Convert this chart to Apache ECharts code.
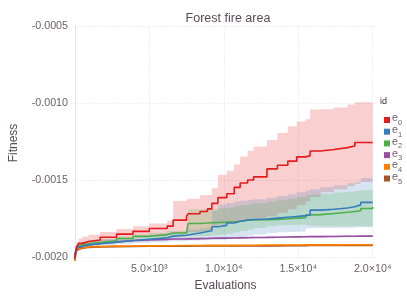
<!DOCTYPE html>
<html><head><meta charset="utf-8">
<script src="https://cdn.jsdelivr.net/npm/echarts@6/dist/echarts.min.js"></script>
<style>html,body{margin:0;padding:0;background:#fff}#c{width:407px;height:305px}</style>
</head><body><div id="c"></div>
<script>
const evaluations = [0, 40, 120, 250, 500, 900, 1700, 2800, 3900, 5000, 6200, 6600, 7500, 7600, 8400, 8900, 9200, 9600, 10200, 10700, 11100, 11600, 12000, 12900, 13600, 14300, 14900, 15500, 15800, 16500, 17400, 18300, 18800, 19200, 20000];

const e0Mean = [-0.002011,-0.001965,-0.001932,-0.001912,-0.001900, -0.001890,-0.001872,-0.001852,-0.001834,-0.001815, -0.001800,-0.001761,-0.001735,-0.001720,-0.001705, -0.001688,-0.001652,-0.001615,-0.001590,-0.001548, -0.001520,-0.001500,-0.001480,-0.001428,-0.001405, -0.001378,-0.001350,-0.001342,-0.001312,-0.001302, -0.001290,-0.001280,-0.001257,-0.001257,-0.001257];
const e0Hi = [-0.001978,-0.001930,-0.001898,-0.001880,-0.001868, -0.001856,-0.001838,-0.001818,-0.001800,-0.001783, -0.001765,-0.001637,-0.001626,-0.001622,-0.001600, -0.001598,-0.001554,-0.001467,-0.001440,-0.001400, -0.001348,-0.001310,-0.001283,-0.001240,-0.001195, -0.001152,-0.001120,-0.001105,-0.001043,-0.001040, -0.001030,-0.001010,-0.000996,-0.000996,-0.000996];
const e0Lo = [-0.002015,-0.001975,-0.001945,-0.001925,-0.001915, -0.001906,-0.001896,-0.001886,-0.001876,-0.001866, -0.001858,-0.001855,-0.001850,-0.001840,-0.001835, -0.001830,-0.001800,-0.001790,-0.001780,-0.001772, -0.001765,-0.001760,-0.001750,-0.001735,-0.001715, -0.001690,-0.001665,-0.001640,-0.001610,-0.001580, -0.001560,-0.001540,-0.001525,-0.001514,-0.001514];

const e1Mean = [-0.002011,-0.001975,-0.001948,-0.001932,-0.001922, -0.001914,-0.001904,-0.001893,-0.001885,-0.001876, -0.001865,-0.001859,-0.001848,-0.001845,-0.001835, -0.001830,-0.001804,-0.001795,-0.001780,-0.001768, -0.001761,-0.001757,-0.001754,-0.001748,-0.001742, -0.001737,-0.001732,-0.001728,-0.001696,-0.001690, -0.001682,-0.001674,-0.001662,-0.001646,-0.001646];
const e1Hi = [-0.001985,-0.001950,-0.001925,-0.001910,-0.001902, -0.001895,-0.001886,-0.001876,-0.001866,-0.001856, -0.001845,-0.001838,-0.001828,-0.001824,-0.001815, -0.001808,-0.001700,-0.001660,-0.001650,-0.001640, -0.001635,-0.001630,-0.001625,-0.001615,-0.001605, -0.001595,-0.001580,-0.001570,-0.001560,-0.001548, -0.001535,-0.001522,-0.001515,-0.001488,-0.001488];
const e1Lo = [-0.002020,-0.001990,-0.001965,-0.001950,-0.001940, -0.001932,-0.001924,-0.001916,-0.001910,-0.001905, -0.001900,-0.001898,-0.001895,-0.001894,-0.001892, -0.001890,-0.001890,-0.001888,-0.001880,-0.001875, -0.001870,-0.001862,-0.001855,-0.001845,-0.001840, -0.001838,-0.001836,-0.001815,-0.001812,-0.001812, -0.001810,-0.001810,-0.001808,-0.001808,-0.001808];

const e2Mean = [-0.002011,-0.001970,-0.001942,-0.001925,-0.001915, -0.001906,-0.001895,-0.001880,-0.001866,-0.001855, -0.001845,-0.001843,-0.001837,-0.001783,-0.001780, -0.001778,-0.001776,-0.001774,-0.001772,-0.001768, -0.001762,-0.001760,-0.001758,-0.001756,-0.001752, -0.001748,-0.001745,-0.001728,-0.001725,-0.001718, -0.001710,-0.001705,-0.001700,-0.001685,-0.001675];
const e2Hi = [-0.001990,-0.001952,-0.001928,-0.001912,-0.001903, -0.001894,-0.001883,-0.001868,-0.001855,-0.001843, -0.001832,-0.001830,-0.001824,-0.001691,-0.001690, -0.001689,-0.001688,-0.001686,-0.001680,-0.001672, -0.001665,-0.001658,-0.001652,-0.001642,-0.001632, -0.001622,-0.001612,-0.001600,-0.001595,-0.001590, -0.001582,-0.001576,-0.001570,-0.001566,-0.001562];
const e2Lo = [-0.002020,-0.001985,-0.001958,-0.001942,-0.001932, -0.001924,-0.001914,-0.001902,-0.001892,-0.001884, -0.001876,-0.001874,-0.001868,-0.001866,-0.001864, -0.001862,-0.001860,-0.001856,-0.001848,-0.001840, -0.001832,-0.001822,-0.001812,-0.001800,-0.001795, -0.001792,-0.001790,-0.001795,-0.001798,-0.001800, -0.001800,-0.001800,-0.001800,-0.001800,-0.001800];

const e3Mean = [-0.002011,-0.001975,-0.001950,-0.001935,-0.001922, -0.001912,-0.001902,-0.001895,-0.001890,-0.001886, -0.001884,-0.001883,-0.001881,-0.001881,-0.001880, -0.001879,-0.001878,-0.001878,-0.001877,-0.001876, -0.001875,-0.001874,-0.001873,-0.001872,-0.001871, -0.001870,-0.001869,-0.001868,-0.001868,-0.001867, -0.001866,-0.001866,-0.001865,-0.001865,-0.001865];
const e3Hi = [-0.001995,-0.001962,-0.001938,-0.001924,-0.001912, -0.001903,-0.001894,-0.001888,-0.001883,-0.001880, -0.001878,-0.001877,-0.001875,-0.001875,-0.001874, -0.001873,-0.001872,-0.001872,-0.001871,-0.001870, -0.001869,-0.001868,-0.001867,-0.001866,-0.001865, -0.001864,-0.001863,-0.001862,-0.001862,-0.001861, -0.001860,-0.001860,-0.001859,-0.001859,-0.001859];
const e3Lo = [-0.002020,-0.001988,-0.001962,-0.001946,-0.001932, -0.001921,-0.001910,-0.001902,-0.001897,-0.001892, -0.001890,-0.001889,-0.001887,-0.001887,-0.001886, -0.001885,-0.001884,-0.001884,-0.001883,-0.001882, -0.001881,-0.001880,-0.001879,-0.001878,-0.001877, -0.001876,-0.001875,-0.001874,-0.001874,-0.001873, -0.001872,-0.001872,-0.001871,-0.001871,-0.001871];

const e4Mean = [-0.002040,-0.001975,-0.001950,-0.001940,-0.001935, -0.001932,-0.001930,-0.001929,-0.001928,-0.001927, -0.001927,-0.001926,-0.001926,-0.001926,-0.001925, -0.001925,-0.001925,-0.001925,-0.001924,-0.001924, -0.001924,-0.001924,-0.001923,-0.001923,-0.001923, -0.001923,-0.001922,-0.001922,-0.001922,-0.001922, -0.001921,-0.001921,-0.001921,-0.001921,-0.001921];
const e4Hi = [-0.002010,-0.001955,-0.001938,-0.001932,-0.001929, -0.001927,-0.001926,-0.001925,-0.001925,-0.001924, -0.001924,-0.001923,-0.001923,-0.001923,-0.001922, -0.001922,-0.001922,-0.001922,-0.001921,-0.001921, -0.001921,-0.001921,-0.001920,-0.001920,-0.001920, -0.001920,-0.001919,-0.001919,-0.001919,-0.001919, -0.001918,-0.001918,-0.001918,-0.001918,-0.001918];
const e4Lo = [-0.002060,-0.002000,-0.001965,-0.001950,-0.001942, -0.001938,-0.001935,-0.001933,-0.001932,-0.001931, -0.001930,-0.001929,-0.001929,-0.001929,-0.001928, -0.001928,-0.001928,-0.001928,-0.001927,-0.001927, -0.001927,-0.001927,-0.001926,-0.001926,-0.001926, -0.001926,-0.001925,-0.001925,-0.001925,-0.001925, -0.001924,-0.001924,-0.001924,-0.001924,-0.001924];

const e5Mean = [-0.002040,-0.001980,-0.001955,-0.001943,-0.001938, -0.001935,-0.001933,-0.001932,-0.001931,-0.001930, -0.001930,-0.001930,-0.001929,-0.001929,-0.001929, -0.001929,-0.001929,-0.001928,-0.001928,-0.001928, -0.001928,-0.001928,-0.001928,-0.001928,-0.001927, -0.001927,-0.001927,-0.001926,-0.001926,-0.001926, -0.001926,-0.001926,-0.001926,-0.001926,-0.001926];
const e5Hi = [-0.002020,-0.001965,-0.001946,-0.001937,-0.001934, -0.001932,-0.001930,-0.001929,-0.001928,-0.001927, -0.001927,-0.001927,-0.001926,-0.001926,-0.001926, -0.001926,-0.001926,-0.001925,-0.001925,-0.001925, -0.001925,-0.001925,-0.001925,-0.001925,-0.001924, -0.001924,-0.001924,-0.001923,-0.001923,-0.001923, -0.001923,-0.001923,-0.001923,-0.001923,-0.001923];
const e5Lo = [-0.002060,-0.001995,-0.001964,-0.001949,-0.001942, -0.001938,-0.001936,-0.001935,-0.001934,-0.001933, -0.001933,-0.001933,-0.001932,-0.001932,-0.001932, -0.001932,-0.001932,-0.001931,-0.001931,-0.001931, -0.001931,-0.001931,-0.001931,-0.001931,-0.001930, -0.001930,-0.001930,-0.001929,-0.001929,-0.001929, -0.001929,-0.001929,-0.001929,-0.001929,-0.001929];

const seriesIds = ['e0', 'e1', 'e2', 'e3', 'e4', 'e5'];
const seriesColors = ['#e41a1c', '#377eb8', '#4daf4a', '#984ea3', '#ff7f00', '#a65628'];
const yTicks = [-0.0020, -0.0015, -0.0010, -0.0005];
const yTickLabels = ['-0.0020', '-0.0015', '-0.0010', '-0.0005'];
const xTicks = [5000, 10000, 15000, 20000];
const xTickLabels = ['5.0×10³', '1.0×10⁴', '1.5×10⁴', '2.0×10⁴'];

const groups = [
  {id: 'e0', mean: e0Mean, lo: e0Lo, hi: e0Hi},
  {id: 'e1', mean: e1Mean, lo: e1Lo, hi: e1Hi},
  {id: 'e2', mean: e2Mean, lo: e2Lo, hi: e2Hi},
  {id: 'e3', mean: e3Mean, lo: e3Lo, hi: e3Hi},
  {id: 'e4', mean: e4Mean, lo: e4Lo, hi: e4Hi},
  {id: 'e5', mean: e5Mean, lo: e5Lo, hi: e5Hi}
];

const FONT = '"Liberation Sans", Arial, sans-serif';
const LABEL = '#6c606b';
const NAMEC = '#564a55';
const GRIDC = '#e2e2ec';

function rgba(hex, a) {
  const n = parseInt(hex.slice(1), 16);
  return 'rgba(' + (n >> 16) + ',' + ((n >> 8) & 255) + ',' + (n & 255) + ',' + a + ')';
}

function bandSeries(g, color) {
  return {
    type: 'custom', name: g.id + '-band', coordinateSystem: 'cartesian2d',
    silent: true, z: 1,
    data: [[evaluations[0], g.mean[0]]],
    encode: {x: 0, y: 1},
    renderItem: function (params, api) {
      const n = evaluations.length;
      const pts = [];
      for (let j = 0; j < n - 1; j++) {
        pts.push(api.coord([evaluations[j], g.hi[j]]));
        pts.push(api.coord([evaluations[j + 1], g.hi[j]]));
      }
      pts.push(api.coord([evaluations[n - 1], g.hi[n - 1]]));
      pts.push(api.coord([evaluations[n - 1], g.lo[n - 1]]));
      for (let j = n - 2; j >= 0; j--) {
        pts.push(api.coord([evaluations[j + 1], g.lo[j]]));
        pts.push(api.coord([evaluations[j], g.lo[j]]));
      }
      const cs = params.coordSys;
      return {
        type: 'polygon',
        shape: {points: pts},
        style: {fill: rgba(color, 0.21), stroke: null},
        clipPath: {type: 'rect', shape: {x: cs.x, y: cs.y, width: cs.width, height: cs.height}}
      };
    }
  };
}

function meanSeries(g, color, z) {
  return {
    type: 'line', name: g.id,
    data: evaluations.map((x, j) => [x, g.mean[j]]),
    step: 'end', symbol: 'none', silent: true, z: z,
    lineStyle: {color: color, width: 1.6},
    itemStyle: {color: color}
  };
}

const series = [];
groups.forEach((g, i) => series.push(bandSeries(g, seriesColors[i])));
[5, 4, 3, 2, 1, 0].forEach((i, k) => series.push(meanSeries(groups[i], seriesColors[i], 3 + k)));

const chart = echarts.init(document.getElementById('c'), null, {renderer: 'canvas'});
chart.setOption({
  animation: false,
  backgroundColor: '#ffffff',
  title: {
    text: 'Forest fire area', left: 223, top: 7, textAlign: 'center',
    textStyle: {fontFamily: FONT, fontSize: 12.5, fontWeight: 'normal', color: NAMEC}
  },
  graphic: [{
    type: 'text', left: 380, top: 97,
    style: {text: 'id', fontFamily: FONT, fontSize: 9, fill: '#362a35'}
  }],
  legend: {
    data: seriesIds, orient: 'vertical', left: 379, top: 108,
    itemWidth: 6, itemHeight: 6, itemGap: -2.3, icon: 'rect', selectedMode: false,
    formatter: function (name) { return '{b|e}{s|' + name.slice(1) + '}'; },
    textStyle: {
      fontFamily: FONT, color: LABEL, padding: [0, 0, 0, -3],
      rich: {
        b: {fontFamily: FONT, fontSize: 10.7, color: LABEL, lineHeight: 14, verticalAlign: 'top'},
        s: {fontFamily: FONT, fontSize: 7.5, color: LABEL, lineHeight: 14, verticalAlign: 'bottom'}
      }
    }
  },
  grid: {left: 73, top: 26, width: 304, height: 234, containLabel: false},
  xAxis: {
    type: 'value', min: -60, max: 20290,
    name: 'Evaluations', nameLocation: 'middle', nameGap: 17,
    nameTextStyle: {fontFamily: FONT, fontSize: 12, color: NAMEC},
    axisLine: {show: false},
    axisTick: {show: false, customValues: xTicks},
    axisLabel: {
      customValues: xTicks, margin: 4, fontFamily: FONT, fontSize: 10.7, color: LABEL,
      formatter: function (v) { const k = xTicks.indexOf(v); return k >= 0 ? xTickLabels[k] : ''; }
    },
    splitLine: {show: true, lineStyle: {color: GRIDC, width: 0.7, type: [1.5, 1.5]}}
  },
  yAxis: {
    type: 'value', min: -0.00202, max: -0.0005,
    name: 'Fitness', nameLocation: 'middle', nameGap: 54,
    nameTextStyle: {fontFamily: FONT, fontSize: 12, color: NAMEC},
    axisLine: {show: true, lineStyle: {color: '#eee2e2', width: 1}},
    axisTick: {show: false, customValues: yTicks},
    axisLabel: {
      customValues: yTicks, margin: 6, fontFamily: FONT, fontSize: 10.7, color: LABEL,
      formatter: function (v) {
        for (let k = 0; k < yTicks.length; k++) { if (Math.abs(yTicks[k] - v) < 1e-9) return yTickLabels[k]; }
        return '';
      }
    },
    splitLine: {show: true, lineStyle: {color: GRIDC, width: 0.7, type: [1.5, 1.5]}}
  },
  series: series
});
</script>
</body></html>
